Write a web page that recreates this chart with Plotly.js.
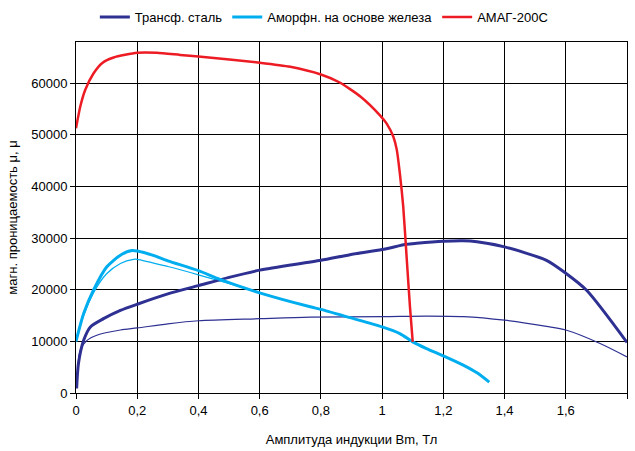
<!DOCTYPE html>
<html>
<head>
<meta charset="utf-8">
<script src="https://cdn.plot.ly/plotly-3.0.1.min.js"></script>
<style>html,body{margin:0;padding:0;background:#fff;}#chart{width:635px;height:451px;}</style>
</head>
<body>
<div id="chart"></div>
<script>
// Трансф. сталь (thick)
const steelX = [0.002,0.008,0.025,0.047,0.09,0.145,0.2,0.3,0.4,0.5,0.6,0.8,0.895,1.0,1.08,1.113,1.2,1.265,1.31,1.4,1.537,1.6,1.668,1.8];
const steelY = [900,5700,10200,12800,14400,16000,17200,19200,20800,22400,23800,25700,26800,27800,28800,29000,29400,29500,29300,28300,25700,23200,19900,9800];
// Трансф. сталь (thin)
const steel2X = [0.002,0.014,0.036,0.068,0.145,0.2,0.3,0.4,0.6,0.765,1.0,1.145,1.265,1.4,1.537,1.6,1.712,1.8];
const steel2Y = [900,8300,10200,11200,12200,12600,13400,14000,14400,14700,14800,14900,14800,14100,12900,12200,9600,7000];
// Аморфн. на основе железа (thick)
const amorphX = [0,0.025,0.057,0.1,0.145,0.183,0.2,0.25,0.3,0.4,0.47,0.6,0.765,0.8,0.895,1.0,1.058,1.1,1.145,1.2,1.265,1.31,1.35];
const amorphY = [10000,15400,19900,24400,26700,27600,27500,26700,25600,23700,22000,19400,16700,16200,14600,12800,11500,9900,8600,7200,5400,3900,2100];
// Аморфн. на основе железа (thin)
const amorph2X = [0,0.025,0.057,0.1,0.145,0.188,0.2,0.3,0.4,0.47,0.56];
const amorph2Y = [10000,15000,19400,23100,25100,25900,25900,24500,22900,21700,20200];
// АМАГ-200С
const amagX = [0,0.014,0.03,0.057,0.085,0.123,0.2,0.264,0.34,0.4,0.6,0.7,0.8,0.86,0.93,0.993,1.015,1.037,1.048,1.058,1.069,1.08,1.091,1.1];
const amagY = [51300,55500,58700,61900,63900,65000,65900,65900,65500,65200,64000,63200,61700,60200,57400,53800,52200,49600,47100,42500,36100,26400,16700,9900];

const seriesNames = ['Трансф. сталь','Аморфн. на основе железа','АМАГ-200С'];
const xTickVals = [0,0.2,0.4,0.6,0.8,1,1.2,1.4,1.6,1.8];
const xTickText = ['0','0,2','0,4','0,6','0,8','1','1,2','1,4','1,6','1,8'];
const yTickVals = [0,10000,20000,30000,40000,50000,60000];
const yTickText = ['0','10000','20000','30000','40000','50000','60000'];

const navy = '#2e3192', cyan = '#00aeef', red = '#ed1c24';
const traces = [
  {x: steel2X, y: steel2Y, mode:'lines', line:{color:navy, width:1.2, shape:'spline', smoothing:0.8}, showlegend:false, name:seriesNames[0]},
  {x: amorph2X, y: amorph2Y, mode:'lines', line:{color:cyan, width:1.2, shape:'spline', smoothing:0.8}, showlegend:false, name:seriesNames[1]},
  {x: steelX, y: steelY, mode:'lines', line:{color:navy, width:3, shape:'spline', smoothing:0.7}, name:seriesNames[0]},
  {x: amorphX, y: amorphY, mode:'lines', line:{color:cyan, width:3, shape:'spline', smoothing:0.7}, name:seriesNames[1]},
  {x: amagX, y: amagY, mode:'lines', line:{color:red, width:2.5, shape:'spline', smoothing:0.6}, name:seriesNames[2]}
];
const font = {family:'"Liberation Sans", Arial, sans-serif', size:13, color:'#000'};
const layout = {
  width:635, height:451,
  margin:{l:76, r:8, t:42, b:58},
  paper_bgcolor:'#fff', plot_bgcolor:'#fff',
  font: font,
  showlegend:true,
  legend:{orientation:'h', xref:'container', x:0.51, xanchor:'center', yref:'container', y:0.962, yanchor:'middle', font:font, itemwidth:30, traceorder:'normal'},
  xaxis:{range:[0,1.8], tickvals:xTickVals, ticktext:xTickText, showgrid:true, gridcolor:'#000', gridwidth:1,
         showline:true, linecolor:'#000', linewidth:1, mirror:true, ticks:'outside', ticklen:5, tickcolor:'#000',
         zeroline:false, tickfont:{size:13},
         title:{text:'Амплитуда индукции Bm, Тл', font:{size:13}, standoff:18}},
  yaxis:{range:[0,68000], tickvals:yTickVals, ticktext:yTickText, showgrid:true, gridcolor:'#000', gridwidth:1,
         showline:true, linecolor:'#000', linewidth:1, mirror:true, ticks:'outside', ticklen:5, tickcolor:'#000',
         zeroline:false, tickfont:{size:13},
         title:{text:'магн. проницаемость μ, μ', font:{size:13}, standoff:10}}
};
Plotly.newPlot('chart', traces, layout, {displayModeBar:false, staticPlot:true});
</script>
</body>
</html>
